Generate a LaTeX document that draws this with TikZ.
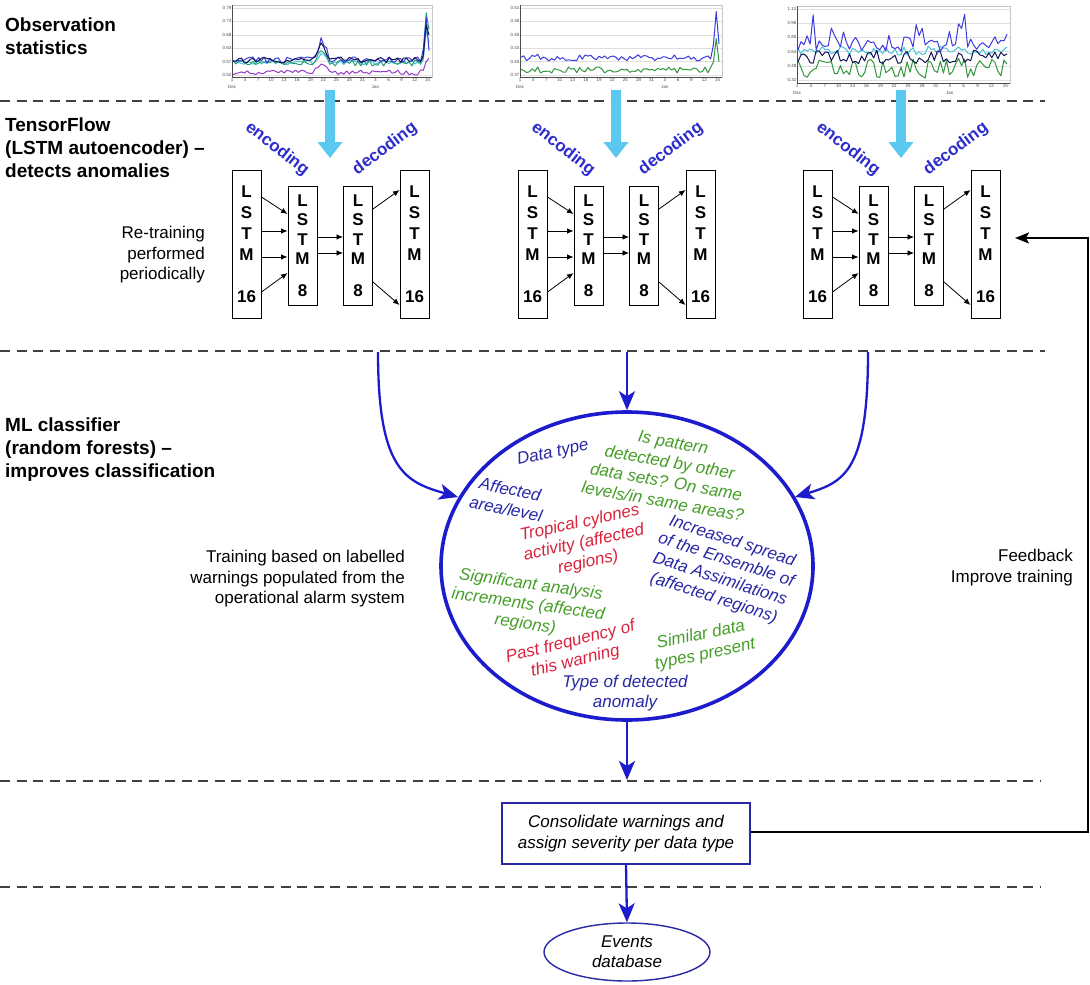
\documentclass[tikz,border=0pt]{standalone}
\usepackage{fontspec}
\setmainfont{Liberation Sans}
\usetikzlibrary{arrows.meta,shapes.geometric}
\definecolor{dblue}{RGB}{28,28,205}
\definecolor{tblue}{RGB}{40,40,165}
\definecolor{tgreen}{RGB}{70,158,40}
\definecolor{tred}{RGB}{218,35,60}
\definecolor{cyanarr}{RGB}{90,200,240}
\definecolor{encblue}{RGB}{45,45,205}
\definecolor{cnavy}{RGB}{20,20,90}
\definecolor{cblue}{RGB}{60,60,220}
\definecolor{cteal}{RGB}{40,160,120}
\definecolor{ccyan}{RGB}{70,195,215}
\definecolor{cpurple}{RGB}{150,60,200}
\definecolor{cgreen}{RGB}{50,150,60}
\begin{document}
\begin{tikzpicture}[x=1pt,y=-1pt,
  head/.style={font=\fontsize{19}{23}\selectfont\bfseries, align=left, anchor=north west, inner sep=0pt},
  note/.style={font=\fontsize{17}{20.5}\selectfont, align=right, anchor=north east, inner sep=0pt},
  sepline/.style={dash pattern=on 10pt off 6.5pt, line width=1.1pt, black!75},
  lstmA/.style={draw, line width=1pt, minimum width=29pt, minimum height=148pt, inner sep=0pt, font=\fontsize{17}{21}\selectfont\bfseries, align=center},
  lstmB/.style={draw, line width=1pt, minimum width=29pt, minimum height=119pt, inner sep=0pt, font=\fontsize{17}{19.5}\selectfont\bfseries, align=center},
  lstmarr/.style={-{Latex[length=6.5pt,width=5.5pt]}, line width=0.8pt},
  enclab/.style={font=\fontsize{17}{20}\selectfont\bfseries, text=encblue, inner sep=0pt},
  bluearr/.style={dblue, line width=2.3pt, -{Stealth[length=19pt,width=16pt,inset=5pt]}},
  cyanarrow/.style={cyanarr, line width=10pt, -{Triangle[length=16pt,width=24pt]}},
  fbarr/.style={line width=1.8pt, -{Stealth[length=14pt,width=11pt,inset=3pt]}},
  etext/.style={font=\fontsize{17}{20}\selectfont\itshape, align=center, inner sep=0pt},
  ticklab/.style={font=\fontsize{4.5}{5}\selectfont, inner sep=0.5pt, text=black!70},
  chartline/.style={line width=1pt, line join=round}
]
\useasboundingbox (0,0) rectangle (1090,985);
\fill[white] (0,0) rectangle (1090,985);

% ---------- left headings ----------
\node[head] (h1) at (5,18) {Observation\\statistics};
\node[head] (h2) at (5,118) {TensorFlow\\(LSTM autoencoder) --\\detects anomalies};
\node[head] (h3) at (5,418) {ML classifier\\(random forests) --\\improves classification};
\node[note] (n1) at (205,226) {Re-training\\performed\\periodically};
\node[note] (n2) at (405,550) {Training based on labelled\\warnings populated from the\\operational alarm system};
\node[note] (n3) at (1073,549) {Feedback\\Improve training};

% ---------- separators ----------
\draw[sepline] (0,101) -- (1045,101);
\draw[sepline] (0,351) -- (1045,351);
\draw[sepline] (0,781) -- (1040,781);
\draw[sepline] (0,887) -- (1040,887);

% ---------- charts ----------
\begin{scope}[shift={(232,5)}]
  \foreach \i/\lab in {0/0.79,1/0.74,2/0.68,3/0.63,4/0.57,5/0.52} {
    \draw[gray!25, line width=0.3pt] (0,{3+\i*13.4}) -- (200,{3+\i*13.4});
    \node[ticklab, anchor=east] at (0,{3+\i*13.4}) {\lab};
  }
  \draw[gray!45, line width=0.4pt] (0,0) rectangle (200,72);
  \draw[black!70, line width=0.5pt] (0,0) -- (0,72) -- (200,72);
  \foreach \d [count=\k from 0] in {1,4,7,10,13,16,19,22,25,28,31,3,6,9,12,15}
    \node[ticklab, anchor=north] at ({\k*3*200/46},73) {\d};
  \node[ticklab, anchor=north] at (0,80) {Dec};
  \node[ticklab, anchor=north] at ({11*3*200/46},80) {Jan};
  \pgfmathsetseed{11}
  \draw[chartline, cpurple] plot[domain=1:197, samples=70] (\x, {65+5*rnd-8*max(0,1-abs(\x-90)/10)-18*max(0,1-abs(\x-196)/4)});
  \draw[chartline, ccyan] plot[domain=1:197, samples=70] (\x, {55+5*rnd-12*max(0,1-abs(\x-90)/8)-40*max(0,1-abs(\x-195)/4)});
  \draw[chartline, cteal] plot[domain=1:197, samples=70] (\x, {55+6*rnd-15*max(0,1-abs(\x-90)/8)-64*max(0,1-abs(\x-195)/4)});
  \draw[chartline, cblue] plot[domain=1:197, samples=70] (\x, {52+6*rnd-22*max(0,1-abs(\x-90)/8)-42*max(0,1-abs(\x-194)/4)});
  \draw[chartline, cnavy] plot[domain=1:197, samples=70] (\x, {52+6*rnd-19*max(0,1-abs(\x-90)/8)-45*max(0,1-abs(\x-195)/4)});
\end{scope}

\begin{scope}[shift={(520,5)}]
  \foreach \i/\lab in {0/0.51,1/0.48,2/0.45,3/0.43,4/0.40,5/0.37} {
    \draw[gray!25, line width=0.3pt] (0,{3+\i*13.4}) -- (202,{3+\i*13.4});
    \node[ticklab, anchor=east] at (0,{3+\i*13.4}) {\lab};
  }
  \draw[gray!45, line width=0.4pt] (0,0) rectangle (202,72);
  \draw[black!70, line width=0.5pt] (0,0) -- (0,72) -- (202,72);
  \foreach \d [count=\k from 0] in {1,4,7,10,13,16,19,22,25,28,31,3,6,9,12,15}
    \node[ticklab, anchor=north] at ({\k*3*202/46},73) {\d};
  \node[ticklab, anchor=north] at (0,80) {Dec};
  \node[ticklab, anchor=north] at ({11*3*202/46},80) {Jan};
  \pgfmathsetseed{23}
  \draw[chartline, cgreen] plot[domain=1:199, samples=72] (\x, {62+6*rnd-30*max(0,1-abs(\x-196)/4)});
  \draw[chartline, cblue] plot[domain=1:199, samples=72] (\x, {49+7*rnd-45*max(0,1-abs(\x-196)/4)});
\end{scope}

\begin{scope}[shift={(797,6)}]
  \foreach \i/\lab in {0/1.12,1/0.96,2/0.80,3/0.64,4/0.48,5/0.32} {
    \draw[gray!25, line width=0.3pt] (0,{3+\i*14.2}) -- (213,{3+\i*14.2});
    \node[ticklab, anchor=east] at (0,{3+\i*14.2}) {\lab};
  }
  \draw[gray!45, line width=0.4pt] (0,0) rectangle (213,77);
  \draw[black!70, line width=0.5pt] (0,0) -- (0,77) -- (213,77);
  \foreach \d [count=\k from 0] in {1,4,7,10,13,16,19,22,25,28,31,3,6,9,12,15}
    \node[ticklab, anchor=north] at ({\k*3*213/46},78) {\d};
  \node[ticklab, anchor=north] at (0,85) {Dec};
  \node[ticklab, anchor=north] at ({11*3*213/46},85) {Jan};
  \pgfmathsetseed{7}
  \draw[chartline, cgreen] plot[domain=1:210, samples=70] (\x, {52+20*rnd});
  \draw[chartline, ccyan] plot[domain=1:210, samples=70] (\x, {40+9*rnd});
  \draw[chartline, cnavy] plot[domain=1:210, samples=70] (\x, {44+14*rnd});
  \draw[chartline, cblue] plot[domain=1:210, samples=70] (\x, {46-12*rnd-32*pow(rnd,5)});
\end{scope}

% ---------- LSTM groups ----------
\foreach \off/\g in {0/a,286/b,571/c} {
  \begin{scope}[xshift=\off pt]
    \node[lstmA] (A\g) at (246.5,244) {L\\S\\T\\M\\[21pt]16};
    \node[lstmB] (B\g) at (302.5,245.5) {L\\S\\T\\M\\[12pt]8};
    \node[lstmB] (C\g) at (358,245.5) {L\\S\\T\\M\\[12pt]8};
    \node[lstmA] (D\g) at (414.5,244) {L\\S\\T\\M\\[21pt]16};
    \draw[lstmarr] ([yshift=47pt]A\g.east) -- ([yshift=31.5pt]B\g.west);
    \draw[lstmarr] ([yshift=13pt]A\g.east) -- ([yshift=14.5pt]B\g.west);
    \draw[lstmarr] ([yshift=-13pt]A\g.east) -- ([yshift=-11.5pt]B\g.west);
    \draw[lstmarr] ([yshift=-48pt]A\g.east) -- ([yshift=-27.5pt]B\g.west);
    \draw[lstmarr] ([yshift=8.5pt]B\g.east) -- ([yshift=8.5pt]C\g.west);
    \draw[lstmarr] ([yshift=-7.5pt]B\g.east) -- ([yshift=-7.5pt]C\g.west);
    \draw[lstmarr] ([yshift=36.5pt]C\g.east) -- ([yshift=54pt]D\g.west);
    \draw[lstmarr] ([yshift=-36.5pt]C\g.east) -- ([yshift=-61pt]D\g.west);
    \node[enclab, rotate=-38] (enc\g) at (277,149) {encoding};
    \node[enclab, rotate=37] (dec\g) at (385,149) {decoding};
    \coordinate (cs\g) at (330,90);
    \coordinate (ce\g) at (330,158);
    \draw[cyanarrow] (cs\g) -- (ce\g);
  \end{scope}
}

% ---------- classifier ellipse ----------
\node[ellipse, draw=dblue, line width=3.6pt, minimum width=372pt, minimum height=308pt, inner sep=0pt] (M) at (627,566) {};
\node[etext, tblue, rotate=12] (t1) at (553,453) {Data type};
\node[etext, tgreen, rotate=-10] (t2) at (668,472) {Is pattern\\detected by other\\data sets? On same\\levels/in same areas?};
\node[etext, tblue, rotate=-12] (t3) at (508,499) {Affected\\area/level};
\node[etext, tred, rotate=12] (t4) at (584,543) {Tropical cylones\\activity (affected\\regions)};
\node[etext, tblue, rotate=-18] (t5) at (723,570) {Increased spread\\of the Ensemble of\\Data Assimilations\\(affected regions)};
\node[etext, tgreen, rotate=-8] (t6) at (528,605) {Significant analysis\\increments (affected\\regions)};
\node[etext, tred, rotate=14] (t7) at (573,652) {Past frequency of\\this warning};
\node[etext, tgreen, rotate=12] (t8) at (703,645) {Similar data\\types present};
\node[etext, tblue] (t9) at (625,693) {Type of detected\\anomaly};

% ---------- bottom boxes ----------
\node[draw=tblue, line width=1.4pt, minimum width=248pt, minimum height=61pt, inner sep=0pt, align=center, font=\fontsize{17}{21}\selectfont\itshape] (K) at (626,833.5) {Consolidate warnings and\\assign severity per data type};
\node[ellipse, draw=tblue, line width=1.4pt, minimum width=166pt, minimum height=58pt, inner sep=0pt, align=center, font=\fontsize{17}{20}\selectfont\itshape] (E) at (627,952) {Events\\database};

% ---------- blue connectors ----------
\coordinate (l0) at (378,352);
\coordinate (m0) at (627,352);
\coordinate (r0) at (868,352);
\coordinate (b0) at (627,780);
\coordinate (lt) at (458,497);
\coordinate (rt) at (795,497);
\draw[bluearr] (l0) .. controls (378,470) and (405,482) .. (lt);
\draw[bluearr] (r0) .. controls (868,470) and (845,482) .. (rt);
\draw[bluearr] (m0) -- (M.north);
\draw[bluearr] (M.south) -- (b0);
\draw[bluearr] (K.south) -- (E.north);

% ---------- feedback ----------
\coordinate (fb1) at (1088,832);
\coordinate (fb2) at (1088,238);
\coordinate (fbt) at (1015,238);
\draw[fbarr] (K.east |- fb1) -- (fb1) -- (fb2) -- (fbt);
\end{tikzpicture}
\end{document}
